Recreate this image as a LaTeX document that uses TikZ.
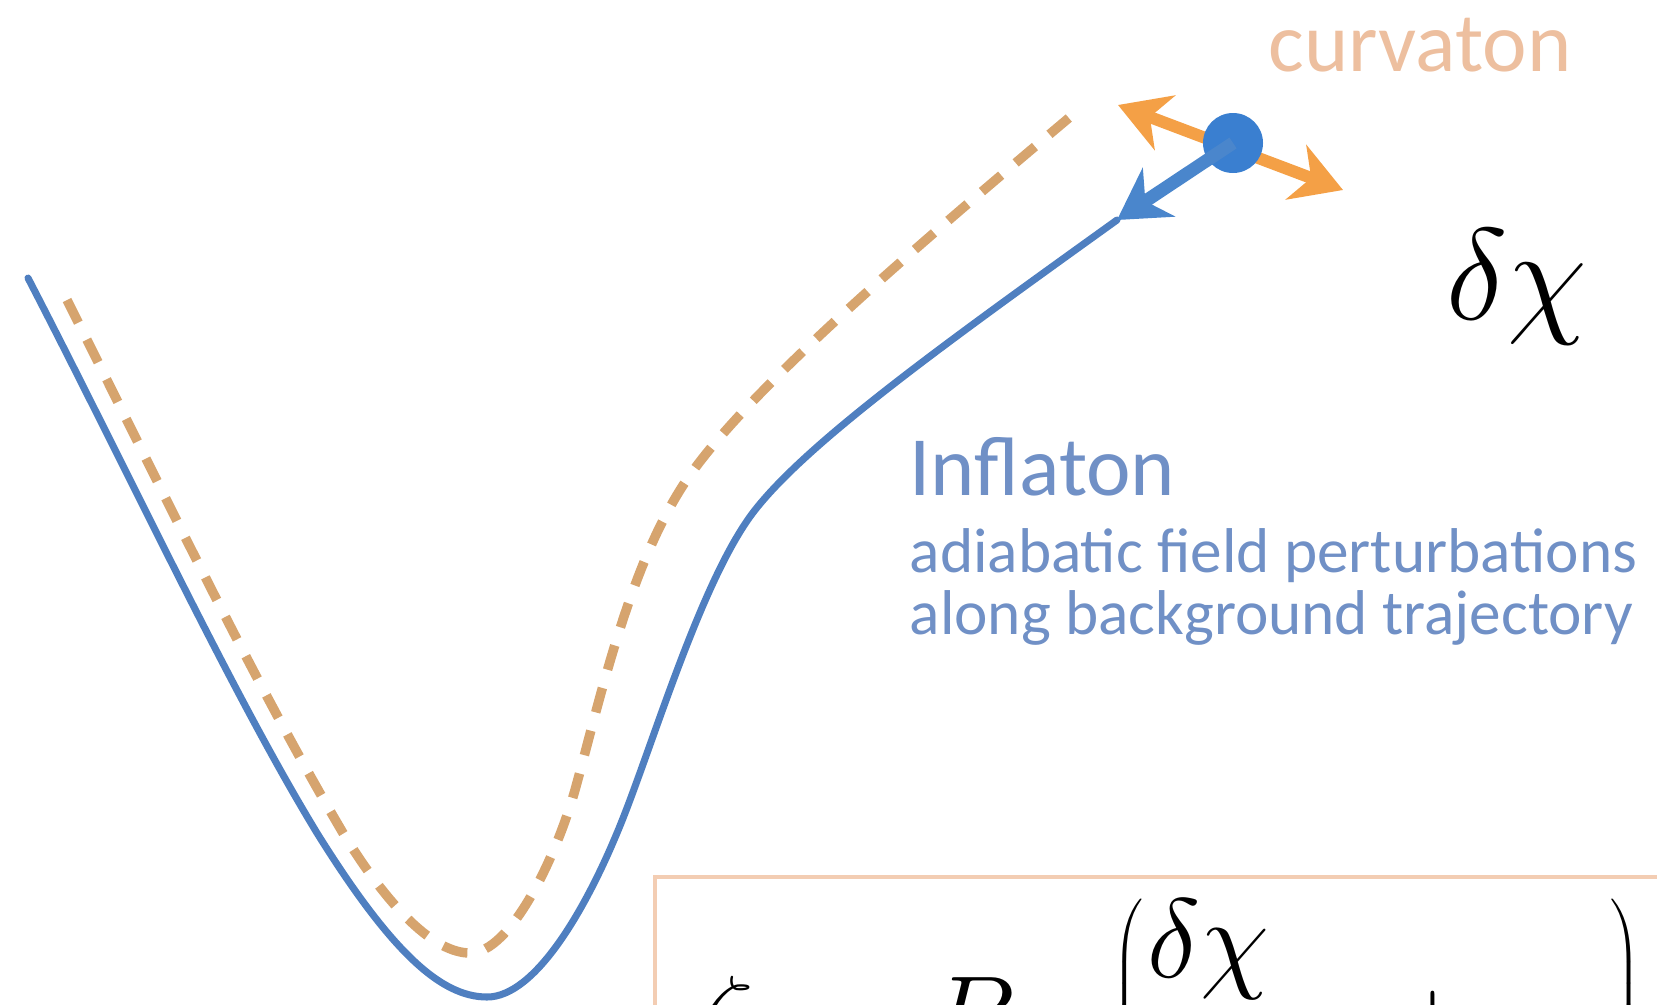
\documentclass[tikz,border=0pt]{standalone}
\usepackage{fix-cm}
\usepackage[no-math]{fontspec}
\newfontfamily\calibri{Carlito}
\usetikzlibrary{arrows.meta, positioning}
\definecolor{cblue}{HTML}{4F7FC0}
\definecolor{corange}{HTML}{D6A46E}
\definecolor{carrow}{HTML}{F4A046}
\definecolor{cdot}{HTML}{3A7FD0}
\definecolor{cbarrow}{HTML}{4A86CC}
\definecolor{ctext}{HTML}{7090C6}
\definecolor{ccurv}{HTML}{EDBF9F}
\definecolor{cbox}{HTML}{F3CDB3}
\tikzset{
  inflpath/.style={draw=cblue, line width=2pt, line cap=round},
  curvpath/.style={draw=corange, line width=2.7pt, dash pattern=on 7.2pt off 5.4pt},
  adarrow/.style={-{Stealth[length=5mm, width=5.8mm, inset=1.6mm]}, draw=cbarrow, line width=1.3mm},
  isoarrow/.style={{Stealth[length=5mm, width=5.8mm, inset=1.6mm]}-{Stealth[length=5mm, width=5.8mm, inset=1.6mm]}, draw=carrow, line width=1.2mm},
  label/.style={anchor=base west, inner sep=0pt},
  formulabox/.style={draw=cbox, line width=1.4pt, fill=white},
}

\begin{document}
\begin{tikzpicture}
  \useasboundingbox (0,0) rectangle (16.57,-10.04);
  \clip (0,0) rectangle (16.57,-10.04);
  % the two trajectories
  \draw[curvpath] (0.67,-3.00) .. controls (1.6,-4.85) and (2.5,-6.75) .. (3.43,-8.33)
    .. controls (3.9,-9.1) and (4.35,-9.53) .. (4.70,-9.53)
    .. controls (5.1,-9.53) and (5.55,-8.6) .. (5.75,-7.9)
    .. controls (6.0,-7.0) and (6.3,-5.6) .. (6.9,-4.75)
    .. controls (7.5,-3.9) and (9.0,-2.6) .. (10.70,-1.17);
  \coordinate (adtip) at (11.17,-2.20);
  \draw[inflpath] (0.28,-2.78) .. controls (1.3,-4.75) and (2.3,-6.9) .. (3.17,-8.33)
    .. controls (3.9,-9.5) and (4.4,-9.97) .. (4.87,-9.97)
    .. controls (5.35,-9.97) and (5.85,-9.1) .. (6.17,-8.33)
    .. controls (6.5,-7.55) and (7.0,-5.8) .. (7.55,-5.1)
    .. controls (8.1,-4.4) and (9.5,-3.4) .. (adtip);
  % field and its perturbations
  \coordinate (isoL) at (11.18,-1.05);
  \coordinate (isoR) at (13.43,-1.90);
  \draw[isoarrow] (isoL) -- (isoR);
  \node[circle, fill=cdot, minimum size=0.6cm, inner sep=0pt] (field) at (12.33,-1.43) {};
  \draw[adarrow] (field.center) -- (adtip);
  % labels
  \node[label, font=\calibri\fontsize{24}{28}\selectfont, text=ccurv] (curvlabel) at (12.68,-0.71) {curvaton};
  \node[label, font=\fontsize{37}{44}\selectfont] (dchi) at (14.46,-3.19) {$\delta\chi$};
  \node[label, font=\calibri\fontsize{24}{28}\selectfont, text=ctext] (infl) at (9.09,-4.95) {Inflaton};
  \node[label, font=\calibri\fontsize{18}{22}\selectfont, text=ctext] (infla) at (9.09,-5.72) {adiabatic field perturbations};
  \node[label, font=\calibri\fontsize{18}{22}\selectfont, text=ctext] (inflb) at (9.09,-6.34) {along background trajectory};
  % formula box
  \draw[formulabox] (6.55,-8.77) rectangle (17.2,-11.2);
  \node[label, font=\fontsize{32}{38}\selectfont] (formula) at (6.97,-10.54) {$\displaystyle \zeta = \; B_\chi \; \left( \frac{\delta\chi}{\chi} \;\;\;+\! \cdots \right)$};
\end{tikzpicture}
\end{document}
